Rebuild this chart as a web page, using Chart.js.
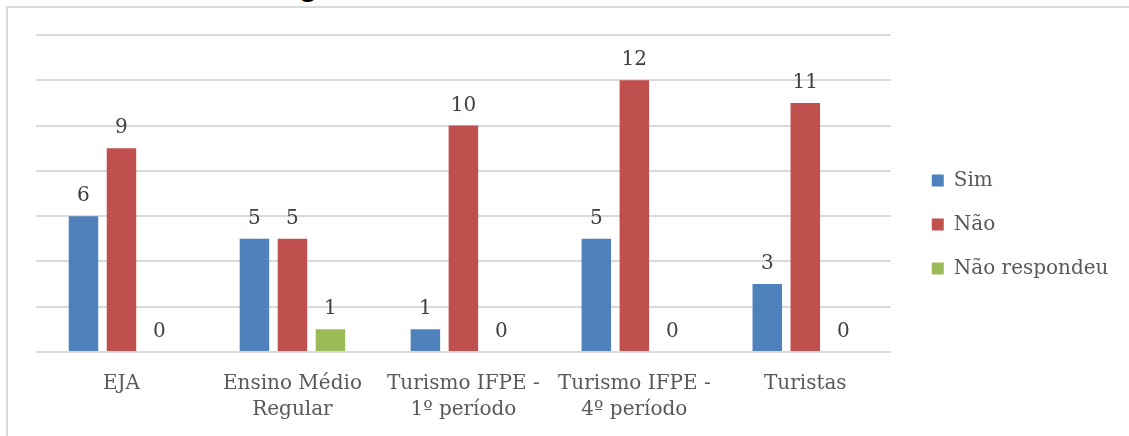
<!DOCTYPE html>
<html lang="pt">
<head>
<meta charset="utf-8">
<title>Respostas por grupo</title>
<script src="https://cdn.jsdelivr.net/npm/chart.js@4.4.1/dist/chart.umd.min.js"></script>
<style>
  html, body { margin: 0; padding: 0; background: #ffffff; overflow: hidden; width: 1129px; height: 436px; }
  #frame {
    position: absolute; left: 6px; top: 6px; width: 1200px; height: 500px;
    border: 2px solid #dadada; box-sizing: border-box;
  }
  #heading {
    position: absolute; left: 299px; top: -29px; margin: 0;
    font: bold 30px/30px "Liberation Sans", Arial, sans-serif; color: #000;
    white-space: nowrap;
  }
  #wrap { position: absolute; left: 0; top: 0; width: 1129px; height: 450px; }
</style>
</head>
<body>
<div id="frame"></div>
<p id="heading">g</p>
<div id="wrap"><canvas id="chart" width="1129" height="450"></canvas></div>
<script>
// Groups surveyed (multi-line axis labels)
const categories = [
  ['EJA'],
  ['Ensino Médio', 'Regular'],
  ['Turismo IFPE -', '1º período'],
  ['Turismo IFPE -', '4º período'],
  ['Turistas']
];
const seriesNames = ['Sim', 'Não', 'Não respondeu'];
const simValues = [6, 5, 1, 5, 3];
const naoValues = [9, 5, 10, 12, 11];
const naoRespondeuValues = [0, 1, 0, 0, 0];
const seriesColors = ['#4f81bd', '#c0504d', '#9bbb59'];
// value axis range (gridlines every 2, labels hidden)
const yRange = [0, 14];
const yStep = 2;

const serifFont = '"DejaVu Serif", serif';

// Writes each bar's value just above it
const valueLabels = {
  id: 'valueLabels',
  afterDatasetsDraw(chart) {
    const ctx = chart.ctx;
    ctx.save();
    ctx.font = '20px ' + serifFont;
    ctx.fillStyle = '#404040';
    ctx.textAlign = 'center';
    ctx.textBaseline = 'alphabetic';
    chart.data.datasets.forEach((ds, i) => {
      const meta = chart.getDatasetMeta(i);
      meta.data.forEach((bar, j) => {
        ctx.fillText(String(ds.data[j]), bar.x, bar.y - 15);
      });
    });
    ctx.restore();
  }
};

const seriesData = [simValues, naoValues, naoRespondeuValues];

new Chart(document.getElementById('chart'), {
  type: 'bar',
  data: {
    labels: categories,
    datasets: seriesNames.map((name, i) => ({
      label: name,
      data: seriesData[i],
      backgroundColor: seriesColors[i],
      borderWidth: 0,
      categoryPercentage: 0.667,
      barPercentage: 0.776
    }))
  },
  options: {
    responsive: false,
    animation: false,
    devicePixelRatio: 1,
    layout: { padding: { top: 7, bottom: 8, left: 36, right: 10.5 } },
    scales: {
      x: {
        grid: { display: false, drawTicks: false },
        border: { display: false },
        ticks: {
          color: '#595959',
          font: { family: serifFont, size: 20, lineHeight: '26px' },
          padding: 19,
          maxRotation: 0,
          autoSkip: false
        }
      },
      y: {
        min: yRange[0],
        max: yRange[1],
        grid: { color: '#dadada', lineWidth: 2, drawTicks: false },
        border: { display: false },
        ticks: { display: false, stepSize: yStep }
      },
      gap: {
        position: 'right',
        display: true,
        grid: { display: false, drawTicks: false },
        border: { display: false },
        ticks: { display: false },
        afterFit(scale) { scale.width = 17; }
      }
    },
    plugins: {
      title: {
        display: true,
        text: ' ',
        fullSize: false,
        padding: { top: 18, bottom: 0 },
        font: { size: 10, lineHeight: 1 }
      },
      legend: {
        position: 'right',
        maxWidth: 260,
        labels: {
          boxWidth: 12,
          boxHeight: 12,
          padding: 24,
          color: '#595959',
          font: { family: serifFont, size: 20 }
        }
      },
      tooltip: { enabled: false }
    }
  },
  plugins: [valueLabels]
});
</script>
</body>
</html>
